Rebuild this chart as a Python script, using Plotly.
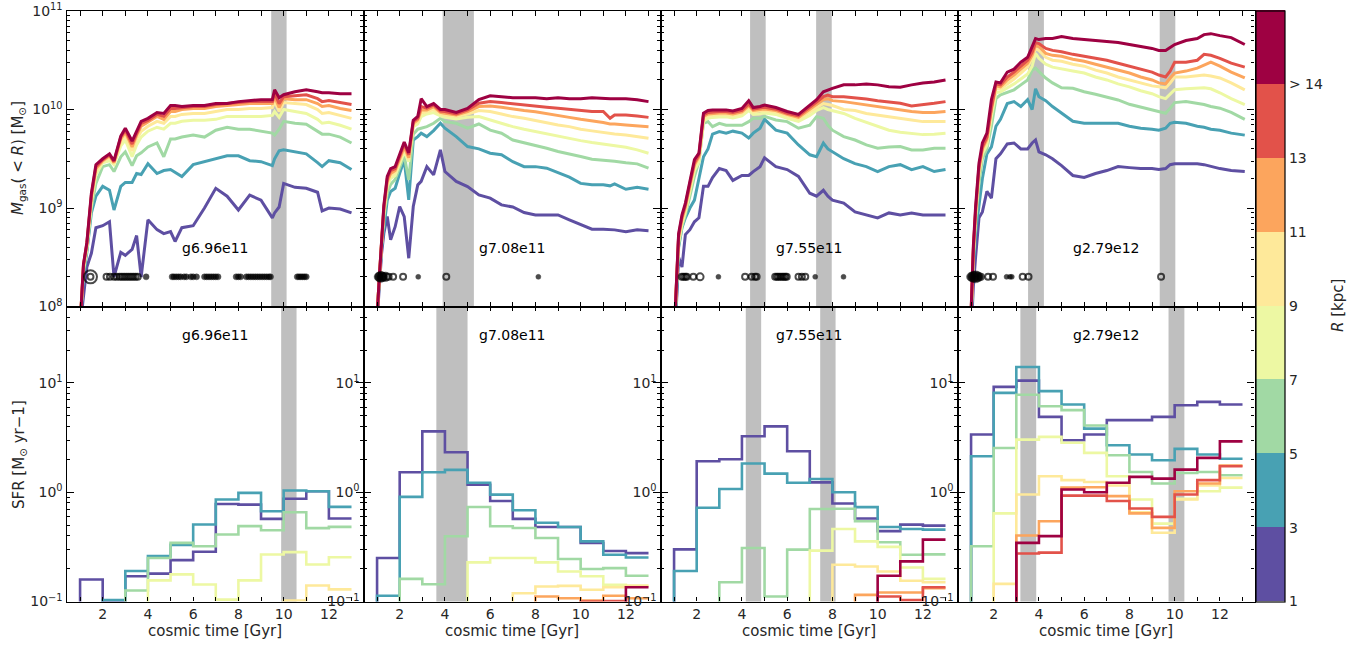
import math
import plotly.graph_objects as go

FIG_W, FIG_H = 1359, 646
FONT = "DejaVu Sans"
TXT = "#262626"

GALAXIES = ["g6.96e11", "g7.08e11", "g7.55e11", "g2.79e12"]
R_COLORS = ["#5e4fa2", "#48a1b3", "#a1d9a4", "#edf8a3", "#fee99a", "#fca55d", "#e2524a", "#9e0142"]
R_TICKVALS = [1, 3, 5, 7, 9, 11, 13, 15]
R_TICKTEXT = ["1", "3", "5", "7", "9", "11", "13", "> 14"]

# ---------------- top row: log10 M_gas(<R) [Msun] ----------------
T_G1 = [1.0, 1.15, 1.3, 1.5, 1.7, 2.0, 2.3, 2.5, 2.8, 3.0, 3.3, 3.5, 3.7, 4.0, 4.4, 4.7, 5.0, 5.2, 5.5,
        6.0, 6.5, 7.0, 7.5, 8.0, 8.5, 9.0, 9.5, 9.6, 9.8, 10.0, 10.5, 11.0, 11.5, 11.7, 12.0, 12.5, 13.0]
G1_R1 = [7.8, 8.1, 8.40, 8.54, 8.80, 8.82, 8.86, 8.30, 8.55, 8.52, 8.58, 8.72, 8.30, 8.88, 8.78, 8.74, 8.76, 8.66, 8.80,
         8.82, 9.00, 9.20, 9.12, 8.98, 9.13, 9.08, 8.90, 8.95, 9.01, 9.25, 9.21, 9.20, 9.16, 8.97, 9.00, 8.99, 8.95]
G1_R3 = [7.8, 8.3, 8.55, 8.95, 9.12, 9.22, 9.18, 8.98, 9.22, 9.26, 9.26, 9.35, 9.34, 9.45, 9.35, 9.38, 9.39, 9.36, 9.32,
         9.44, 9.47, 9.50, 9.53, 9.53, 9.48, 9.47, 9.43, 9.50, 9.58, 9.59, 9.57, 9.55, 9.46, 9.42, 9.48, 9.46, 9.39]
G1_R5 = [7.8, 8.35, 8.58, 9.0, 9.25, 9.42, 9.44, 9.37, 9.52, 9.57, 9.43, 9.53, 9.56, 9.62, 9.66, 9.52, 9.70, 9.70, 9.72,
         9.74, 9.72, 9.79, 9.82, 9.80, 9.80, 9.78, 9.76, 9.74, 9.80, 9.88, 9.86, 9.85, 9.78, 9.75, 9.75, 9.72, 9.66]
G1_R7 = [7.8, 8.38, 8.60, 9.06, 9.34, 9.46, 9.48, 9.44, 9.63, 9.69, 9.52, 9.64, 9.72, 9.78, 9.82, 9.80, 9.86, 9.86, 9.88,
         9.89, 9.89, 9.90, 9.93, 9.93, 9.93, 9.93, 9.94, 9.98, 9.92, 10.0, 9.98, 9.96, 9.90, 9.86, 9.87, 9.84, 9.80]
G1_R9 = [7.8, 8.40, 8.62, 9.09, 9.38, 9.47, 9.51, 9.45, 9.67, 9.74, 9.58, 9.70, 9.78, 9.83, 9.88, 9.86, 9.93, 9.93, 9.95,
         9.96, 9.96, 9.98, 10.0, 10.0, 10.01, 10.01, 10.02, 10.08, 9.98, 10.07, 10.06, 10.05, 10.0, 9.96, 9.97, 9.94, 9.91]
G1_R11 = [7.8, 8.41, 8.63, 9.11, 9.40, 9.48, 9.53, 9.46, 9.70, 9.77, 9.62, 9.74, 9.83, 9.87, 9.93, 9.90, 9.98, 9.98, 10.0,
          10.01, 10.01, 10.03, 10.04, 10.05, 10.06, 10.06, 10.06, 10.13, 10.02, 10.11, 10.10, 10.10, 10.06, 10.03, 10.04, 10.01, 9.99]
G1_R13 = [7.8, 8.42, 8.64, 9.13, 9.42, 9.49, 9.54, 9.47, 9.72, 9.79, 9.65, 9.76, 9.86, 9.89, 9.95, 9.93, 10.01, 10.01, 10.02,
          10.03, 10.03, 10.05, 10.06, 10.07, 10.08, 10.08, 10.08, 10.17, 10.06, 10.13, 10.14, 10.15, 10.11, 10.08, 10.09, 10.07, 10.05]
G1_R15 = [7.8, 8.43, 8.65, 9.15, 9.44, 9.50, 9.55, 9.48, 9.73, 9.81, 9.68, 9.78, 9.88, 9.91, 9.97, 9.96, 10.04, 10.04, 10.03,
          10.04, 10.04, 10.06, 10.06, 10.08, 10.09, 10.10, 10.10, 10.20, 10.12, 10.15, 10.18, 10.20, 10.18, 10.17, 10.17, 10.16, 10.16]

T_G2 = [0.9, 1.0, 1.1, 1.2, 1.3, 1.45, 1.6, 1.8, 2.0, 2.2, 2.4, 2.6, 2.8, 2.95, 3.2, 3.5, 3.8, 4.0, 4.5, 5.0, 5.5,
        6.0, 6.5, 7.0, 7.5, 8.0, 8.5, 9.0, 9.5, 10.0, 10.5, 11.0, 11.3, 11.5, 12.0, 12.5, 13.0]
G2_R1 = [7.6, 7.85, 8.2, 8.54, 8.744, 8.913, 8.677, 8.81, 9.015, 8.913, 8.49, 9.015, 9.235, 9.27, 9.42, 9.336, 9.59, 9.37,
         9.27, 9.218, 9.133, 9.1, 9.032, 9.01, 8.954, 8.93, 8.93, 8.93, 8.88, 8.83, 8.785, 8.785, 8.785, 8.778, 8.76, 8.778, 8.77]
G2_R3 = [7.6, 7.88, 8.25, 8.6, 8.81, 9.08, 9.167, 9.2, 9.353, 9.488, 9.083, 9.69, 9.725, 9.76, 9.725, 9.786, 9.86, 9.81,
         9.725, 9.624, 9.6, 9.556, 9.54, 9.47, 9.42, 9.42, 9.404, 9.36, 9.313, 9.25, 9.235, 9.235, 9.225, 9.245, 9.19, 9.21, 9.19]
G2_R5 = [7.6, 7.89, 8.27, 8.62, 8.9, 9.15, 9.24, 9.29, 9.42, 9.53, 9.285, 9.75, 9.8, 9.81, 9.826, 9.86, 9.911, 9.877,
         9.86, 9.81, 9.853, 9.79, 9.759, 9.69, 9.664, 9.64, 9.607, 9.573, 9.55, 9.522, 9.495, 9.488, 9.48, 9.475, 9.46, 9.448, 9.404]
G2_R7 = [7.6, 7.9, 8.28, 8.64, 8.95, 9.22, 9.3, 9.33, 9.46, 9.57, 9.47, 9.826, 9.853, 9.928, 9.955, 9.969, 9.935, 9.921,
         9.904, 9.921, 9.928, 9.894, 9.86, 9.826, 9.8, 9.776, 9.752, 9.73, 9.708, 9.684, 9.664, 9.65, 9.64, 9.63, 9.617, 9.59, 9.556]
G2_R9 = [7.6, 7.9, 8.29, 8.65, 8.97, 9.25, 9.33, 9.36, 9.48, 9.6, 9.49, 9.843, 9.877, 9.962, 9.98, 10.0, 9.955, 9.945,
         9.928, 9.955, 9.99, 9.98, 9.955, 9.928, 9.911, 9.887, 9.867, 9.843, 9.826, 9.8, 9.783, 9.766, 9.759, 9.752, 9.742, 9.725, 9.708]
G2_R11 = [7.6, 7.9, 8.3, 8.66, 8.99, 9.27, 9.35, 9.38, 9.5, 9.62, 9.51, 9.86, 9.894, 9.996, 9.996, 10.03, 9.972, 9.962,
          9.945, 9.98, 10.03, 10.036, 10.023, 10.003, 9.99, 9.976, 9.955, 9.935, 9.92, 9.9, 9.887, 9.867, 9.853, 9.853, 9.843, 9.833, 9.826]
G2_R13 = [7.6, 7.9, 8.3, 8.67, 9.01, 9.3, 9.38, 9.4, 9.53, 9.65, 9.54, 9.877, 9.911, 10.03, 10.013, 10.046, 9.985, 9.98,
          9.955, 9.996, 10.063, 10.08, 10.07, 10.057, 10.046, 10.036, 10.023, 10.013, 10.003, 9.996, 9.98, 9.98, 9.911, 9.945, 9.945, 9.935, 9.92]
G2_R15 = [7.6, 7.9, 8.3, 8.68, 9.03, 9.32, 9.40, 9.42, 9.556, 9.67, 9.56, 9.89, 9.93, 10.11, 10.03, 10.06, 10.0, 10.0,
          9.97, 10.01, 10.10, 10.14, 10.13, 10.12, 10.12, 10.12, 10.11, 10.12, 10.11, 10.11, 10.12, 10.11, 10.11, 10.11, 10.11, 10.10, 10.08]

T_G3 = [1.0, 1.1, 1.2, 1.35, 1.5, 1.7, 1.9, 2.1, 2.3, 2.5, 2.7, 3.0, 3.3, 3.6, 4.0, 4.3, 4.5, 4.8, 5.0, 5.5, 6.0,
        6.5, 7.0, 7.3, 7.6, 7.8, 8.0, 8.5, 9.0, 9.5, 10.0, 10.5, 11.0, 11.5, 12.0, 12.5, 13.0]
G3_R1 = [7.7, 8.0, 8.5, 8.4, 8.73, 8.78, 8.86, 8.9, 9.22, 9.22, 9.31, 9.4, 9.38, 9.28, 9.33, 9.33, 9.37, 9.42, 9.51, 9.42,
         9.39, 9.32, 9.15, 9.12, 9.18, 9.12, 9.08, 9.05, 8.96, 8.93, 8.9, 8.95, 8.93, 8.95, 8.93, 8.93, 8.93]
G3_R3 = [7.7, 8.05, 8.6, 8.8, 8.9, 9.0, 9.08, 9.32, 9.52, 9.6, 9.75, 9.776, 9.76, 9.78, 9.76, 9.71, 9.76, 9.81, 9.9, 9.79,
         9.76, 9.64, 9.54, 9.52, 9.66, 9.6, 9.57, 9.5, 9.45, 9.42, 9.37, 9.42, 9.44, 9.39, 9.42, 9.37, 9.39]
G3_R5 = [7.7, 8.1, 8.62, 8.81, 8.93, 9.12, 9.32, 9.47, 9.86, 9.877, 9.826, 9.86, 9.84, 9.84, 9.84, 9.877, 9.911, 9.911, 9.93,
         9.894, 9.877, 9.81, 9.84, 9.928, 9.911, 9.84, 9.79, 9.725, 9.69, 9.64, 9.607, 9.62, 9.624, 9.59, 9.59, 9.607, 9.607]
G3_R7 = [7.7, 8.15, 8.65, 8.84, 8.96, 9.17, 9.38, 9.47, 9.88, 9.91, 9.92, 9.925, 9.925, 9.915, 9.935, 9.99, 9.95, 9.955, 9.965,
         9.95, 9.91, 9.88, 9.94, 9.99, 10.02, 10.0, 9.99, 9.96, 9.91, 9.87, 9.83, 9.79, 9.77, 9.76, 9.745, 9.75, 9.76]
G3_R9 = [7.7, 8.17, 8.68, 8.87, 8.99, 9.21, 9.42, 9.5, 9.91, 9.94, 9.945, 9.95, 9.95, 9.94, 9.96, 10.02, 9.975, 9.98, 9.99,
         9.975, 9.935, 9.905, 9.975, 10.02, 10.06, 10.05, 10.04, 10.0, 9.99, 9.96, 9.945, 9.928, 9.911, 9.894, 9.877, 9.88, 9.877]
G3_R11 = [7.7, 8.18, 8.7, 8.89, 9.01, 9.23, 9.44, 9.52, 9.93, 9.955, 9.96, 9.965, 9.965, 9.955, 9.975, 10.04, 9.99, 9.996, 10.006,
          9.99, 9.95, 9.92, 10.0, 10.05, 10.1, 10.11, 10.09, 10.08, 10.063, 10.046, 10.03, 10.013, 9.996, 9.98, 9.97, 9.97, 9.98]
G3_R13 = [7.7, 8.19, 8.72, 8.91, 9.03, 9.25, 9.46, 9.54, 9.945, 9.97, 9.975, 9.98, 9.98, 9.97, 9.99, 10.056, 10.003, 10.013, 10.023,
          10.003, 9.962, 9.935, 10.023, 10.08, 10.13, 10.147, 10.13, 10.13, 10.12, 10.107, 10.09, 10.08, 10.063, 10.036, 10.046, 10.063, 10.08]
G3_R15 = [7.7, 8.2, 8.74, 8.93, 9.05, 9.27, 9.49, 9.556, 9.962, 9.99, 9.996, 9.996, 9.996, 9.985, 10.01, 10.09, 10.02, 10.03, 10.046,
          10.02, 9.98, 9.95, 10.04, 10.1, 10.18, 10.2, 10.215, 10.25, 10.25, 10.26, 10.25, 10.23, 10.225, 10.25, 10.27, 10.28, 10.30]

T_G4 = [1.0, 1.1, 1.2, 1.35, 1.5, 1.7, 1.9, 2.1, 2.3, 2.6, 2.9, 3.2, 3.5, 3.7, 3.85, 4.0, 4.3, 4.6, 5.0, 5.5, 6.0,
        6.5, 7.0, 7.5, 8.0, 8.5, 9.0, 9.3, 9.6, 9.8, 10.0, 10.5, 11.0, 11.3, 11.6, 12.0, 12.5, 13.1]
G4_R1 = [7.7, 8.2, 8.5, 8.9, 8.96, 9.17, 9.1, 9.5, 9.55, 9.65, 9.66, 9.6, 9.6, 9.66, 9.69, 9.57, 9.54, 9.5, 9.43, 9.33, 9.31,
         9.35, 9.38, 9.42, 9.41, 9.4, 9.4, 9.39, 9.4, 9.44, 9.45, 9.45, 9.45, 9.44, 9.42, 9.4, 9.38, 9.37]
G4_R3 = [7.85, 8.4, 8.75, 9.0, 9.3, 9.55, 9.62, 9.83, 9.9, 10.06, 10.08, 10.03, 10.1, 10.0, 10.21, 10.13, 10.09, 10.03, 9.96,
         9.88, 9.86, 9.86, 9.86, 9.86, 9.83, 9.81, 9.8, 9.79, 9.81, 9.86, 9.87, 9.86, 9.83, 9.82, 9.8, 9.79, 9.76, 9.74]
G4_R5 = [7.88, 8.48, 8.85, 9.25, 9.5, 9.6, 9.83, 10.11, 10.148, 10.175, 10.2, 10.25, 10.3, 10.4, 10.42, 10.385, 10.32, 10.27,
         10.22, 10.215, 10.18, 10.155, 10.125, 10.097, 10.053, 10.023, 9.996, 9.98, 9.962, 10.013, 10.07, 10.08, 10.063, 10.05,
         10.03, 10.013, 9.97, 9.9]
G4_R7 = [7.9, 8.52, 8.92, 9.35, 9.55, 9.64, 9.93, 10.17, 10.18, 10.22, 10.26, 10.31, 10.36, 10.44, 10.57, 10.52, 10.46, 10.43,
         10.41, 10.39, 10.37, 10.33, 10.3, 10.26, 10.23, 10.19, 10.16, 10.13, 10.11, 10.15, 10.2, 10.21, 10.22, 10.22, 10.21,
         10.17, 10.11, 10.05]
G4_R9 = [7.91, 8.54, 8.94, 9.38, 9.58, 9.67, 9.97, 10.21, 10.21, 10.26, 10.31, 10.37, 10.43, 10.52, 10.62, 10.6, 10.53, 10.5,
         10.49, 10.46, 10.44, 10.4, 10.37, 10.33, 10.3, 10.27, 10.24, 10.23, 10.22, 10.27, 10.33, 10.33, 10.34, 10.35, 10.34,
         10.32, 10.27, 10.2]
G4_R11 = [7.92, 8.56, 8.96, 9.4, 9.6, 9.7, 10.0, 10.24, 10.23, 10.3, 10.35, 10.41, 10.47, 10.55, 10.65, 10.64, 10.57, 10.55,
          10.54, 10.51, 10.49, 10.46, 10.43, 10.4, 10.37, 10.33, 10.30, 10.27, 10.26, 10.32, 10.37, 10.39, 10.42, 10.45, 10.48,
          10.44, 10.38, 10.32]
G4_R13 = [7.93, 8.58, 8.98, 9.42, 9.62, 9.72, 10.02, 10.26, 10.25, 10.33, 10.38, 10.44, 10.5, 10.58, 10.68, 10.67, 10.62, 10.6,
          10.587, 10.56, 10.54, 10.52, 10.5, 10.47, 10.44, 10.41, 10.38, 10.35, 10.33, 10.39, 10.48, 10.48, 10.5, 10.56, 10.55,
          10.52, 10.47, 10.43]
G4_R15 = [7.95, 8.61, 9.015, 9.455, 9.66, 9.76, 10.1, 10.28, 10.27, 10.38, 10.41, 10.48, 10.53, 10.64, 10.72, 10.71, 10.72, 10.72,
          10.74, 10.72, 10.71, 10.70, 10.69, 10.68, 10.66, 10.64, 10.62, 10.6, 10.6, 10.63, 10.66, 10.70, 10.72, 10.76, 10.77,
          10.75, 10.73, 10.66]

TOP_TIMES = [T_G1, T_G2, T_G3, T_G4]
TOP_LOGM = [
    [G1_R1, G1_R3, G1_R5, G1_R7, G1_R9, G1_R11, G1_R13, G1_R15],
    [G2_R1, G2_R3, G2_R5, G2_R7, G2_R9, G2_R11, G2_R13, G2_R15],
    [G3_R1, G3_R3, G3_R5, G3_R7, G3_R9, G3_R11, G3_R13, G3_R15],
    [G4_R1, G4_R3, G4_R5, G4_R7, G4_R9, G4_R11, G4_R13, G4_R15],
]

# merger markers at M = 2e8
DOT_LEVEL = 2e8
G1_OPEN_T = [1.46, 1.46, 2.17, 2.32, 2.5, 2.62, 2.75, 2.85, 2.95, 3.05, 3.15, 3.25, 3.35, 3.45, 3.55]
G1_OPEN_S = [13, 6, 6, 6, 6, 6, 6, 6, 6, 6, 6, 6, 6, 6, 6]
G1_FILL_T = [3.92, 5.07, 5.15, 5.25, 5.35, 5.45, 5.6, 5.7, 5.9, 6.0, 6.15, 6.5, 6.6, 6.7, 6.8, 6.9, 7.0, 7.1,
             7.9, 8.0, 8.1, 8.35, 8.45, 8.55, 8.65, 8.75, 8.85, 8.95, 9.05, 9.15, 9.25, 9.35, 9.42,
             10.6, 10.68, 10.76, 10.84, 10.92, 11.0]
G1_FILL_S = [6] * 39
G2_OPEN_T = [1.37, 1.51, 1.71, 2.15, 4.06]
G2_OPEN_S = [8, 6, 6, 6, 6]
G2_FILL_T = [1.07, 1.15, 1.22, 1.3, 2.82, 8.13]
G2_FILL_S = [9, 11, 10, 8, 5, 5]
G3_OPEN_T = [1.34, 1.42, 1.5, 1.56, 1.85, 2.15, 4.14, 4.43, 4.58, 4.65, 5.47, 5.55, 5.62, 5.7, 5.78, 5.85, 5.92, 5.98,
             6.5, 6.65, 6.8]
G3_OPEN_S = [6, 6, 6, 6, 6, 7, 6, 6, 6, 6, 6, 6, 6, 6, 6, 6, 6, 6, 6, 6, 6]
G3_FILL_T = [2.96, 7.24, 8.49]
G3_FILL_S = [5, 5, 5]
G4_OPEN_T = [1.75, 1.97, 3.28, 3.54, 9.4]
G4_OPEN_S = [6, 6, 6, 6, 6]
G4_FILL_T = [1.0, 1.1, 1.2, 1.3, 1.42, 2.57, 2.72, 2.8]
G4_FILL_S = [9, 11, 12, 10, 8, 5, 5, 5]
DOTS = [(G1_OPEN_T, G1_OPEN_S, G1_FILL_T, G1_FILL_S), (G2_OPEN_T, G2_OPEN_S, G2_FILL_T, G2_FILL_S),
        (G3_OPEN_T, G3_OPEN_S, G3_FILL_T, G3_FILL_S), (G4_OPEN_T, G4_OPEN_S, G4_FILL_T, G4_FILL_S)]

# ---------------- bottom row: SFR per 1 Gyr bin (1..13 Gyr) ----------------
SFR_EDGES = [1, 2, 3, 4, 5, 6, 7, 8, 9, 10, 11, 12, 13]
SFR_FLOOR = 0.01
S1_R1 = [0.159, 0.1, 0.17, 0.18, 0.239, 0.285, 0.78, 0.77, 0.57, 0.87, 1.02, 0.574]
S1_R3 = [0.05, 0.103, 0.19, 0.26, 0.33, 0.506, 0.857, 0.986, 0.67, 1.036, 1.02, 0.734]
S1_R5 = [0.05, 0.05, 0.126, 0.25, 0.344, 0.32, 0.41, 0.489, 0.449, 0.656, 0.469, 0.482]
S1_R7 = [0.05, 0.05, 0.05, 0.156, 0.177, 0.143, 0.104, 0.156, 0.269, 0.283, 0.218, 0.254]
S1_R9 = [0.05, 0.05, 0.05, 0.05, 0.05, 0.05, 0.05, 0.05, 0.05, 0.102, 0.14, 0.129]
S1_R11 = [0.05, 0.05, 0.05, 0.05, 0.05, 0.05, 0.05, 0.05, 0.05, 0.05, 0.05, 0.05]
S1_R13 = [0.05, 0.05, 0.05, 0.05, 0.05, 0.05, 0.05, 0.05, 0.05, 0.05, 0.05, 0.05]
S1_R15 = [0.05, 0.05, 0.05, 0.05, 0.05, 0.05, 0.05, 0.05, 0.05, 0.05, 0.05, 0.05]

S2_R1 = [0.25, 1.52, 3.6, 2.32, 1.17, 0.83, 0.57, 0.48, 0.48, 0.343, 0.29, 0.277]
S2_R3 = [0.113, 0.906, 1.52, 1.6, 1.22, 0.95, 0.684, 0.525, 0.48, 0.355, 0.268, 0.253]
S2_R5 = [0.05, 0.161, 0.144, 0.395, 0.733, 0.488, 0.471, 0.381, 0.245, 0.198, 0.202, 0.172]
S2_R7 = [0.05, 0.05, 0.05, 0.05, 0.228, 0.25, 0.25, 0.228, 0.188, 0.17, 0.142, 0.139]
S2_R9 = [0.05, 0.05, 0.05, 0.05, 0.05, 0.05, 0.119, 0.137, 0.139, 0.128, 0.135, 0.139]
S2_R11 = [0.05, 0.05, 0.05, 0.05, 0.05, 0.05, 0.05, 0.111, 0.107, 0.102, 0.113, 0.107]
S2_R13 = [0.05, 0.05, 0.05, 0.05, 0.05, 0.05, 0.05, 0.05, 0.05, 0.1, 0.101, 0.09]
S2_R15 = [0.05, 0.05, 0.05, 0.05, 0.05, 0.05, 0.05, 0.05, 0.05, 0.05, 0.05, 0.135]

S3_R1 = [0.30, 1.92, 2.0, 3.25, 4.0, 2.37, 1.23, 0.787, 0.575, 0.44, 0.505, 0.495]
S3_R3 = [0.19, 0.72, 1.07, 1.83, 1.48, 1.22, 1.32, 1.0, 0.73, 0.48, 0.46, 0.455]
S3_R5 = [0.05, 0.05, 0.15, 0.309, 0.111, 0.298, 0.703, 0.705, 0.542, 0.348, 0.268, 0.27]
S3_R7 = [0.05, 0.05, 0.05, 0.05, 0.05, 0.05, 0.292, 0.461, 0.355, 0.316, 0.205, 0.161]
S3_R9 = [0.05, 0.05, 0.05, 0.05, 0.05, 0.05, 0.05, 0.217, 0.209, 0.188, 0.155, 0.15]
S3_R11 = [0.05, 0.05, 0.05, 0.05, 0.05, 0.05, 0.05, 0.05, 0.115, 0.121, 0.121, 0.132]
S3_R13 = [0.05, 0.05, 0.05, 0.05, 0.05, 0.05, 0.05, 0.05, 0.05, 0.111, 0.103, 0.135]
S3_R15 = [0.05, 0.05, 0.05, 0.05, 0.05, 0.05, 0.05, 0.05, 0.05, 0.172, 0.233, 0.368]

S4_R1 = [3.37, 9.2, 10.5, 4.89, 2.99, 3.37, 4.56, 4.56, 4.89, 6.25, 6.7, 6.34]
S4_R3 = [2.13, 8.1, 14.0, 8.4, 6.34, 3.82, 2.69, 2.21, 1.96, 2.49, 2.21, 2.02]
S4_R5 = [0.32, 2.54, 7.8, 6.12, 5.63, 4.07, 2.18, 1.53, 1.2, 1.5, 1.53, 1.43]
S4_R7 = [0.05, 0.64, 3.03, 3.21, 2.83, 2.29, 1.4, 0.857, 0.516, 0.869, 1.02, 1.1]
S4_R9 = [0.05, 0.145, 0.953, 1.4, 1.29, 1.24, 1.15, 0.656, 0.425, 0.857, 1.15, 1.35]
S4_R11 = [0.05, 0.05, 0.402, 0.543, 1.1, 1.11, 0.92, 0.64, 0.472, 1.02, 1.2, 1.75]
S4_R13 = [0.05, 0.05, 0.275, 0.28, 0.93, 0.93, 0.83, 0.71, 0.594, 0.953, 1.29, 1.73]
S4_R15 = [0.05, 0.05, 0.344, 0.396, 1.06, 1.0, 1.22, 1.38, 1.33, 1.61, 2.06, 2.92]

SFR = [
    [S1_R1, S1_R3, S1_R5, S1_R7, S1_R9, S1_R11, S1_R13, S1_R15],
    [S2_R1, S2_R3, S2_R5, S2_R7, S2_R9, S2_R11, S2_R13, S2_R15],
    [S3_R1, S3_R3, S3_R5, S3_R7, S3_R9, S3_R11, S3_R13, S3_R15],
    [S4_R1, S4_R3, S4_R5, S4_R7, S4_R9, S4_R11, S4_R13, S4_R15],
]

# shaded intervals (Gyr)
TOP_BANDS = [[(9.45, 10.13)], [(3.9, 5.28)], [(4.36, 5.05), (7.28, 7.97)], [(3.52, 4.22), (9.34, 10.03)]]
BOTTOM_BANDS = [[(9.89, 10.57)], [(3.62, 5.0)], [(4.17, 4.85), (7.46, 8.14)], [(3.18, 3.88), (9.73, 10.43)]]

X_RANGE = [0.40, 13.53]
TOP_YRANGE = [8, 11]
BOT_YRANGE = [-1, math.log10(50)]
X_MAJOR = [2, 4, 6, 8, 10, 12]
X_MINOR = [1, 3, 5, 7, 9, 11, 13]

# ---------------- layout geometry (pixels) ----------------
X_EDGES = [66.5, 363.5, 660.5, 957.5, 1254.5]
ROWS = [(11, 306.5), (306.5, 601.5)]


def fx(p):
    return p / FIG_W


def fy(p):
    return 1 - p / FIG_H


fig = go.Figure()
layout = dict(
    width=FIG_W, height=FIG_H, margin=dict(l=0, r=0, t=0, b=0, autoexpand=False),
    paper_bgcolor="white", plot_bgcolor="white", showlegend=False,
    font=dict(family=FONT, size=14, color=TXT),
)
shapes = []
annotations = []

top_major = [1e8, 1e9, 1e10, 1e11]
top_text = ["10<sup>8</sup>", "10<sup>9</sup>", "10<sup>10</sup>", "10<sup>11</sup>"]
top_minor = [k * 10 ** d for d in range(8, 11) for k in range(2, 10)]
bot_major = [0.1, 1, 10]
bot_text = ["10<sup>\u22121</sup>", "10<sup>0</sup>", "10<sup>1</sup>"]
bot_minor = [k * 10 ** d for d in range(-1, 2) for k in range(2, 10) if k * 10 ** d <= 50]

for r in range(2):
    for c in range(4):
        idx = r * 4 + c + 1
        xn = "xaxis" if idx == 1 else f"xaxis{idx}"
        yn = "yaxis" if idx == 1 else f"yaxis{idx}"
        xr = "x" if idx == 1 else f"x{idx}"
        yr = "y" if idx == 1 else f"y{idx}"
        xax = dict(
            domain=[fx(X_EDGES[c]), fx(X_EDGES[c + 1])], anchor=yr, range=X_RANGE, automargin=False,
            tickvals=X_MAJOR, ticktext=[str(v) for v in X_MAJOR],
            showticklabels=(r == 1), ticks="inside", ticklen=4.5, tickwidth=1, tickcolor="black",
            showline=True, linecolor="black", linewidth=1.3, mirror="allticks",
            showgrid=False, zeroline=False, tickfont=dict(size=14, color=TXT),
            minor=dict(tickvals=X_MINOR, ticks="inside", ticklen=4.5, tickcolor="black", tickwidth=1, showgrid=False),
        )
        if r == 1:
            xax["title"] = dict(text="cosmic time [Gyr]", font=dict(size=15, color=TXT), standoff=0)
        layout[xn] = xax
        if r == 0:
            yv, yt, ym, yrng = top_major, top_text, top_minor, TOP_YRANGE
            show_y = (c == 0)
        else:
            yv, yt, ym, yrng = bot_major, bot_text, bot_minor, BOT_YRANGE
            show_y = True
        layout[yn] = dict(
            domain=[fy(ROWS[r][1]), fy(ROWS[r][0])], anchor=xr, type="log", range=yrng, automargin=False,
            tickvals=yv, ticktext=yt, showticklabels=show_y, ticks="inside", ticklen=7, tickwidth=1,
            tickcolor="black", showline=True, linecolor="black", linewidth=1.3, mirror="allticks",
            showgrid=False, zeroline=False, tickfont=dict(size=14, color=TXT),
            minor=dict(tickvals=ym, ticks="inside", ticklen=3.5, tickcolor="black", tickwidth=1, showgrid=False),
        )
        bands = TOP_BANDS[c] if r == 0 else BOTTOM_BANDS[c]
        for (b0, b1) in bands:
            shapes.append(dict(type="rect", xref=xr, yref=f"{yr} domain", x0=b0, x1=b1, y0=0, y1=1,
                               fillcolor="#bfbfbf", line=dict(width=0), layer="below"))
        ylab = 248 if r == 0 else 335
        annotations.append(dict(text=GALAXIES[c], xref="paper", yref="paper",
                                x=fx((X_EDGES[c] + X_EDGES[c + 1]) / 2), y=fy(ylab),
                                showarrow=False, font=dict(size=14, color="black"),
                                xanchor="center", yanchor="middle"))

        if r == 0:
            T = TOP_TIMES[c]
            for k in range(8):
                fig.add_trace(go.Scatter(
                    x=T, y=[10 ** v for v in TOP_LOGM[c][k]], mode="lines",
                    line=dict(color=R_COLORS[k], width=3), xaxis=xr, yaxis=yr, hoverinfo="skip"))
            ot, osz, ft, fsz = DOTS[c]
            fig.add_trace(go.Scatter(
                x=ft, y=[DOT_LEVEL] * len(ft), mode="markers",
                marker=dict(size=fsz, color="black", line=dict(color="black", width=0.5)),
                xaxis=xr, yaxis=yr, hoverinfo="skip"))
            fig.add_trace(go.Scatter(
                x=ot, y=[DOT_LEVEL] * len(ot), mode="markers",
                marker=dict(size=osz, color="rgba(255,255,255,0)", line=dict(color="black", width=2)),
                xaxis=xr, yaxis=yr, hoverinfo="skip"))
        else:
            for k in range(8):
                fig.add_trace(go.Scatter(
                    x=SFR_EDGES, y=[SFR_FLOOR] + SFR[c][k], mode="lines", line_shape="vh",
                    line=dict(color=R_COLORS[k], width=2.6), xaxis=xr, yaxis=yr, hoverinfo="skip"))

annotations.append(dict(text="<i>M</i><sub>gas</sub>( &lt; <i>R</i>) [M<sub>\u2299</sub>]", xref="paper", yref="paper",
                        x=fx(19), y=fy(158), textangle=-90, showarrow=False,
                        font=dict(size=15, color=TXT), xanchor="center", yanchor="middle"))
annotations.append(dict(text="SFR [M<sub>\u2299</sub> yr\u22121]", xref="paper", yref="paper",
                        x=fx(19), y=fy(455), textangle=-90, showarrow=False,
                        font=dict(size=15, color=TXT), xanchor="center", yanchor="middle"))
annotations.append(dict(text="<i>R</i> [kpc]", xref="paper", yref="paper",
                        x=fx(1338), y=fy(306), textangle=-90, showarrow=False,
                        font=dict(size=15, color=TXT), xanchor="center", yanchor="middle"))

ncol = len(R_COLORS)
cscale = []
for i, col in enumerate(R_COLORS):
    cscale.append([i / ncol, col])
    cscale.append([(i + 1) / ncol, col])
fig.add_trace(go.Scatter(
    x=[-50], y=[1e8], mode="markers", xaxis="x", yaxis="y", hoverinfo="skip",
    marker=dict(size=1, color=[1], cmin=1, cmax=17, colorscale=cscale, showscale=True,
                colorbar=dict(x=fx(1255.7), xanchor="left", xpad=0, ypad=0,
                              y=fy(601.5), yanchor="bottom", len=601.5 - 11, lenmode="pixels",
                              thickness=29, thicknessmode="pixels", outlinewidth=1.2, outlinecolor="black",
                              tickvals=R_TICKVALS, ticktext=R_TICKTEXT, ticks="",
                              tickfont=dict(size=14, color=TXT)))))

layout["shapes"] = shapes
layout["annotations"] = annotations
fig.update_layout(**layout)
fig.write_html("out.html", config={"displayModeBar": False},
               post_script="document.body.style.margin='0';document.body.style.overflow='hidden';")
